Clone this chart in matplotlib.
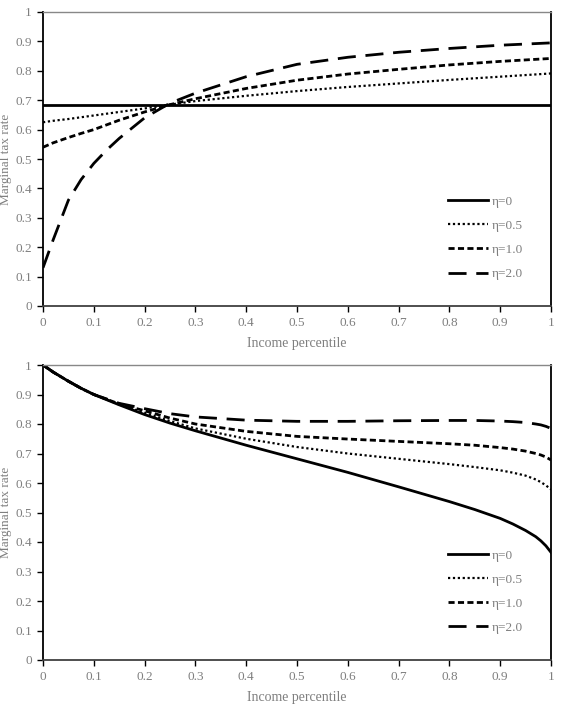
import matplotlib
matplotlib.use("Agg")
import matplotlib.pyplot as plt
import numpy as np

# ---- data: top panel ----
x_top = [0, 0.02, 0.05, 0.075, 0.1, 0.125, 0.15, 0.2, 0.25, 0.3, 0.4, 0.5, 0.6, 0.7, 0.8, 0.9, 1.0]
top_eta0 = [0.685] * len(x_top)
top_eta05 = [0.625, 0.63, 0.636, 0.642, 0.648, 0.654, 0.660, 0.672, 0.685, 0.697, 0.715, 0.731, 0.745, 0.757, 0.769, 0.780, 0.791]
top_eta1 = [0.54, 0.555, 0.573, 0.587, 0.600, 0.616, 0.632, 0.660, 0.685, 0.705, 0.740, 0.768, 0.789, 0.805, 0.820, 0.832, 0.842]
top_eta2 = [0.13, 0.225, 0.36, 0.43, 0.485, 0.53, 0.57, 0.64, 0.69, 0.724, 0.780, 0.822, 0.846, 0.863, 0.876, 0.887, 0.895]

# ---- data: bottom panel ----
x_bot = [0, 0.02, 0.05, 0.075, 0.1, 0.15, 0.2, 0.25, 0.3, 0.4, 0.5, 0.6, 0.7, 0.8, 0.85, 0.9, 0.925, 0.95, 0.97, 0.98, 0.99, 1.0]
bot_eta0 = [1.0, 0.976, 0.945, 0.921, 0.900, 0.865, 0.832, 0.803, 0.777, 0.728, 0.682, 0.636, 0.587, 0.537, 0.510, 0.480, 0.461, 0.439, 0.418, 0.404, 0.387, 0.365]
bot_eta05 = [1.0, 0.976, 0.945, 0.921, 0.900, 0.866, 0.838, 0.810, 0.785, 0.750, 0.722, 0.700, 0.682, 0.664, 0.654, 0.643, 0.635, 0.625, 0.612, 0.603, 0.592, 0.578]
bot_eta1 = [1.0, 0.976, 0.945, 0.921, 0.900, 0.868, 0.845, 0.820, 0.800, 0.775, 0.758, 0.749, 0.741, 0.733, 0.728, 0.720, 0.715, 0.708, 0.700, 0.695, 0.688, 0.678]
bot_eta2 = [1.0, 0.976, 0.945, 0.921, 0.900, 0.870, 0.852, 0.835, 0.824, 0.813, 0.809, 0.809, 0.811, 0.812, 0.812, 0.810, 0.808, 0.805, 0.800, 0.797, 0.792, 0.785]

labels = ["η=0", "η=0.5", "η=1.0", "η=2.0"]
xticks = [0, 0.1, 0.2, 0.3, 0.4, 0.5, 0.6, 0.7, 0.8, 0.9, 1]
xticklabels = ["0", "0.1", "0.2", "0.3", "0.4", "0.5", "0.6", "0.7", "0.8", "0.9", "1"]
yticks = xticks
yticklabels = xticklabels

plt.rcParams['font.family'] = ['Liberation Serif', 'DejaVu Serif']
gray = '#7f7f7f'

fig = plt.figure(figsize=(5.61, 7.04), dpi=100)
ax1 = fig.add_axes([43/561, 1-306/704, 508/561, 294/704])
ax2 = fig.add_axes([43/561, 1-660/704, 508/561, 295/704])

styles = [
    dict(linestyle='-', linewidth=2.0),
    dict(linestyle=(0, (1, 1.2)), linewidth=1.6),
    dict(linestyle=(0, (2.2, 1.2)), linewidth=2.0),
    dict(linestyle=(0, (6.5, 3.5)), linewidth=2.0),
]

def draw(ax, x, series):
    for s, lab, st in zip(series, labels, styles):
        ax.plot(x, s, color='black', label=lab, **st)
    ax.set_xlim(0, 1)
    ax.set_ylim(0, 1)
    ax.set_xticks(xticks)
    ax.set_xticklabels(xticklabels)
    ax.set_yticks(yticks)
    ax.set_yticklabels(yticklabels)
    ax.tick_params(axis='both', direction='out', length=4, width=1, color='black',
                   labelsize=9.5, labelcolor=gray, pad=4)
    for side in ['left', 'bottom', 'right']:
        ax.spines[side].set_color('black')
        ax.spines[side].set_linewidth(1.3)
    ax.spines['bottom'].set_color('#404040')
    ax.spines['top'].set_color('#888888')
    ax.spines['top'].set_linewidth(1.0)
    ax.set_xlabel("Income percentile", color=gray, fontsize=10)
    ax.set_ylabel("Marginal tax rate", color=gray, fontsize=9.5)
    ax.xaxis.set_label_coords(0.5, -0.128)
    ax.yaxis.set_label_coords(-0.073, 0.5)
    ax.yaxis.label.set_va('center')
    ax.xaxis.label.set_va('center')
    leg = ax.legend(loc='lower right', frameon=False, fontsize=9.5, handlelength=3.0,
                    labelspacing=0.9, handletextpad=0.3, borderaxespad=0.0,
                    bbox_to_anchor=(0.955, 0.07))
    for t in leg.get_texts():
        t.set_color(gray)

draw(ax1, x_top, [top_eta0, top_eta05, top_eta1, top_eta2])
draw(ax2, x_bot, [bot_eta0, bot_eta05, bot_eta1, bot_eta2])

fig.savefig("out.png", dpi=100)
